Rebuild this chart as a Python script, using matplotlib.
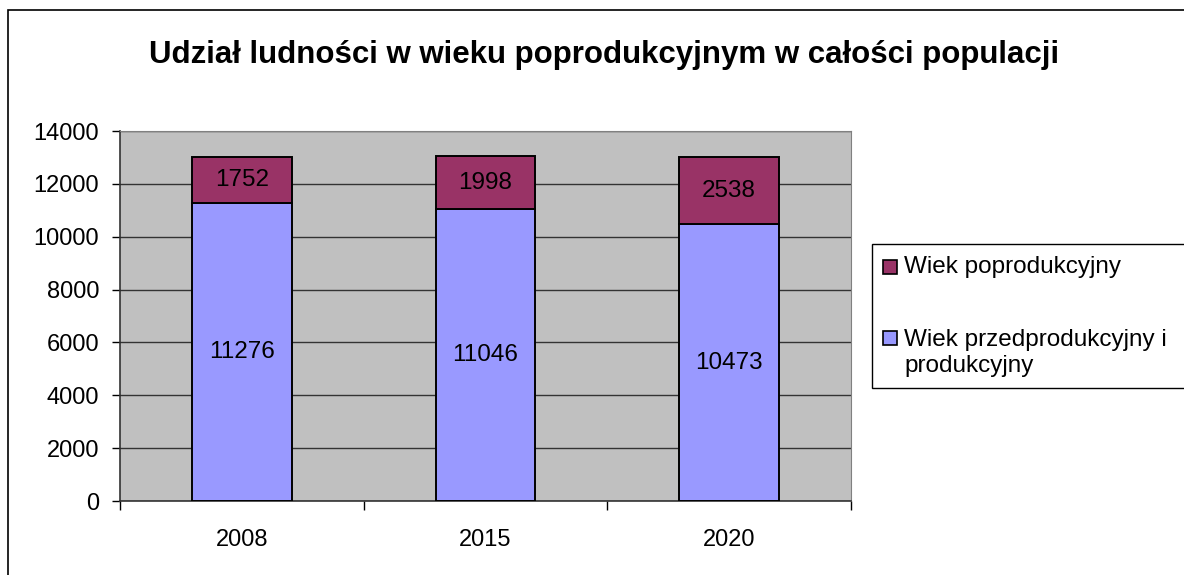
import matplotlib
matplotlib.use("Agg")
import matplotlib.pyplot as plt
from matplotlib.patches import Rectangle
import numpy as np

plt.rcParams['font.family'] = ['Liberation Sans', 'DejaVu Sans']

# dane
lata = ['2008', '2015', '2020']
przed_i_prod = [11276, 11046, 10473]
poprod = [1752, 1998, 2538]
tytul = 'Udział ludności w wieku poprodukcyjnym w całości populacji'
etykiety = ['Wiek poprodukcyjny', 'Wiek przedprodukcyjny i\nprodukcyjny']

kol_poprod = '#993366'
kol_przed = '#9999FF'

W, H = 1184, 575


def fx(px):
    return px / W


def fy(py):
    return 1 - py / H


fig = plt.figure(figsize=(11.84, 5.75), dpi=100)
# ramka wykresu
fig.patches.append(Rectangle((fx(8), -0.1), 1.2, fy(10) + 0.1,
                             transform=fig.transFigure, fill=False,
                             edgecolor='black', linewidth=1.2))

ax = fig.add_axes([fx(120), fy(501), 731 / W, 370 / H])
ax.set_facecolor('#C0C0C0')

x = np.arange(len(lata))
w = 0.41
ax.bar(x, przed_i_prod, w, color=kol_przed, edgecolor='black', linewidth=1.4, zorder=3)
ax.bar(x, poprod, w, bottom=przed_i_prod, color=kol_poprod, edgecolor='black',
       linewidth=1.4, zorder=3)

for i in range(len(lata)):
    ax.text(x[i], przed_i_prod[i] / 2, str(przed_i_prod[i]), ha='center', va='center',
            fontsize=17.5, zorder=4)
    ax.text(x[i], przed_i_prod[i] + poprod[i] / 2, str(poprod[i]), ha='center',
            va='center', fontsize=17.5, zorder=4)

ax.set_ylim(0, 14000)
ax.set_xlim(-0.5, 2.5)
ax.set_yticks(range(0, 14001, 2000))
ax.yaxis.grid(True, color='#333333', linewidth=1)
ax.set_axisbelow(True)
ax.tick_params(axis='y', labelsize=17, length=6, width=1, pad=9)

ax.set_xticks(x)
ax.set_xticklabels(lata)
ax.set_xticks([-0.5, 0.5, 1.5, 2.5], minor=True)
ax.tick_params(axis='x', which='major', length=0, labelsize=17, pad=20)
ax.tick_params(axis='x', which='minor', length=6.5, width=1)

for s in ['top', 'right']:
    ax.spines[s].set_color('#808080')
for s in ['left', 'bottom']:
    ax.spines[s].set_color('#333333')
    ax.spines[s].set_linewidth(1.2)

fig.text(fx(604), fy(63), tytul, ha='center', va='baseline',
         fontsize=22.5, fontweight='bold')

# legenda
fig.patches.append(Rectangle((fx(872), fy(388)), 1.0, 144 / H,
                             transform=fig.transFigure, facecolor='white',
                             edgecolor='black', linewidth=1.0))
for kol, yc in [(kol_poprod, 267), (kol_przed, 338)]:
    fig.patches.append(Rectangle((fx(883), fy(yc + 7)), 14 / W, 14 / H,
                                 transform=fig.transFigure, facecolor=kol,
                                 edgecolor='black', linewidth=1.2))
fig.text(fx(904), fy(267), etykiety[0], ha='left', va='center', fontsize=17.5)
fig.text(fx(904), fy(353), etykiety[1], ha='left', va='center', fontsize=17.5,
         linespacing=1.23)

fig.savefig('out.png', dpi=100)
